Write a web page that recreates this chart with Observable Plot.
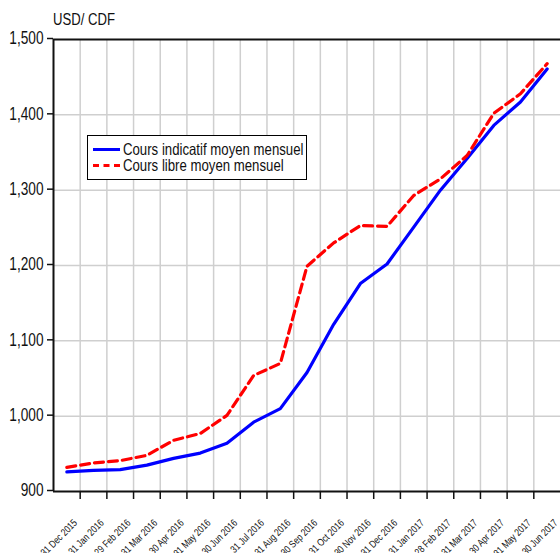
<!DOCTYPE html>
<html><head><meta charset="utf-8">
<script src="https://cdn.jsdelivr.net/npm/d3@7"></script>
<script src="https://cdn.jsdelivr.net/npm/@observablehq/plot@0.6"></script>
<style>
body{margin:0;background:#fff;}
#wrap{position:relative;width:560px;height:553px;overflow:hidden;}
.nar{font-family:"Liberation Sans",Arial,sans-serif;}
#ylab{position:absolute;left:53px;top:11px;font-size:16px;line-height:18px;color:#111;transform:scaleX(0.82);transform-origin:left top;white-space:nowrap;}
#legend{position:absolute;left:87px;top:135px;width:218px;height:43px;border:1.5px solid #000;background:#fff;}
.row{position:absolute;left:5px;height:16px;line-height:16px;display:flex;align-items:center;font-size:16.5px;color:#111;white-space:nowrap;}
.sw{width:27px;height:0;margin-right:3px;}
.txt{display:inline-block;transform:scaleX(0.8);transform-origin:left center;}
</style></head>
<body>
<div id="wrap"></div>
<script>
const months = ["31 Dec 2015","31 Jan 2016","29 Feb 2016","31 Mar 2016","30 Apr 2016","31 May 2016","30 Jun 2016","31 Jul 2016","31 Aug 2016","30 Sep 2016","31 Oct 2016","30 Nov 2016","31 Dec 2016","31 Jan 2017","28 Feb 2017","31 Mar 2017","30 Apr 2017","31 May 2017","30 Jun 2017"];
const indicatif = [926, 928, 929, 935, 944, 951, 964, 992, 1010, 1058, 1122, 1176, 1202, 1251, 1300, 1342, 1386, 1417, 1461];
const libre = [932, 938, 941, 948, 968, 977, 1001, 1054, 1070, 1199, 1230, 1253, 1252, 1293, 1315, 1346, 1402, 1428, 1468];
const yTicks = [900, 1000, 1100, 1200, 1300, 1400, 1500];
const seriesNames = ["Cours indicatif moyen mensuel", "Cours libre moyen mensuel"];
const yLabel = "USD/ CDF";

const table = months.map((m, i) => ({i, m, ind: indicatif[i], lib: libre[i]}));
const bounds = months.slice(1).map((_, i) => i + 0.5);
const font = '"Liberation Sans",Arial,sans-serif';

const chart = Plot.plot({
  width: 560, height: 553,
  marginLeft: 53, marginRight: 0, marginTop: 39, marginBottom: 62,
  style: {fontFamily: font, background: "#fff", color: "#111"},
  x: {type: "linear", domain: [-0.5, months.length - 0.5]},
  y: {domain: [900, 1500]},
  marks: [
    Plot.gridX({ticks: bounds, stroke: "#cfcfcf", strokeOpacity: 1, strokeWidth: 1.5}),
    Plot.gridY({ticks: yTicks.slice(1, -1), stroke: "#cfcfcf", strokeOpacity: 1, strokeWidth: 1.5}),
    Plot.axisX({ticks: bounds, tickFormat: () => "", tickSize: 8, label: null, strokeWidth: 1.5}),
    Plot.axisY({ticks: yTicks, tickFormat: d3.format(","), tickSize: 6, tickPadding: 4, fontSize: 18, label: null, strokeWidth: 1.5, dy: -1}),
    Plot.ruleY([900], {stroke: "#111", strokeWidth: 2}),
    Plot.ruleY([1500], {stroke: "#111", strokeWidth: 2}),
    Plot.ruleX([-0.5], {stroke: "#111", strokeWidth: 2}),
    Plot.text(table, {x: "i", frameAnchor: "bottom", text: "m", rotate: -45, textAnchor: "end", dx: 11, dy: 32, fontSize: 10.3, fill: "#111"}),
    Plot.line(table, {x: "i", y: "ind", stroke: "#0000ff", strokeWidth: 3.2}),
    Plot.line(table, {x: "i", y: "lib", stroke: "#ff0000", strokeWidth: 3.2, strokeDasharray: "9,5"})
  ]
});
// condense svg text horizontally (narrow face look) around its anchor
const yTextSet = new Set(chart.querySelectorAll('g[aria-label="y-axis tick label"] text'));
chart.querySelectorAll("text").forEach(el => {
  const s = yTextSet.has(el) ? 0.76 : 0.8;
  const X = parseFloat(el.getAttribute("x") || 0), Y = parseFloat(el.getAttribute("y") || 0);
  const t = el.getAttribute("transform") || "";
  el.setAttribute("transform", `${t} translate(${X},${Y}) scale(${s},1) translate(${-X},${-Y})`.trim());
});
const wrap = document.getElementById("wrap");
wrap.appendChild(chart);
const yl = document.createElement("div");
yl.id = "ylab"; yl.className = "nar"; yl.textContent = yLabel;
wrap.appendChild(yl);
const lg = document.createElement("div");
lg.id = "legend"; lg.className = "nar";
lg.innerHTML = `<div class="row" style="top:5px"><span class="sw" style="border-top:3.2px solid #0000ff"></span><span class="txt">${seriesNames[0]}</span></div>` +
  `<div class="row" style="top:21px"><span class="sw" style="border-top:3.2px dashed #ff0000"></span><span class="txt">${seriesNames[1]}</span></div>`;
wrap.appendChild(lg);
</script>
</body></html>
